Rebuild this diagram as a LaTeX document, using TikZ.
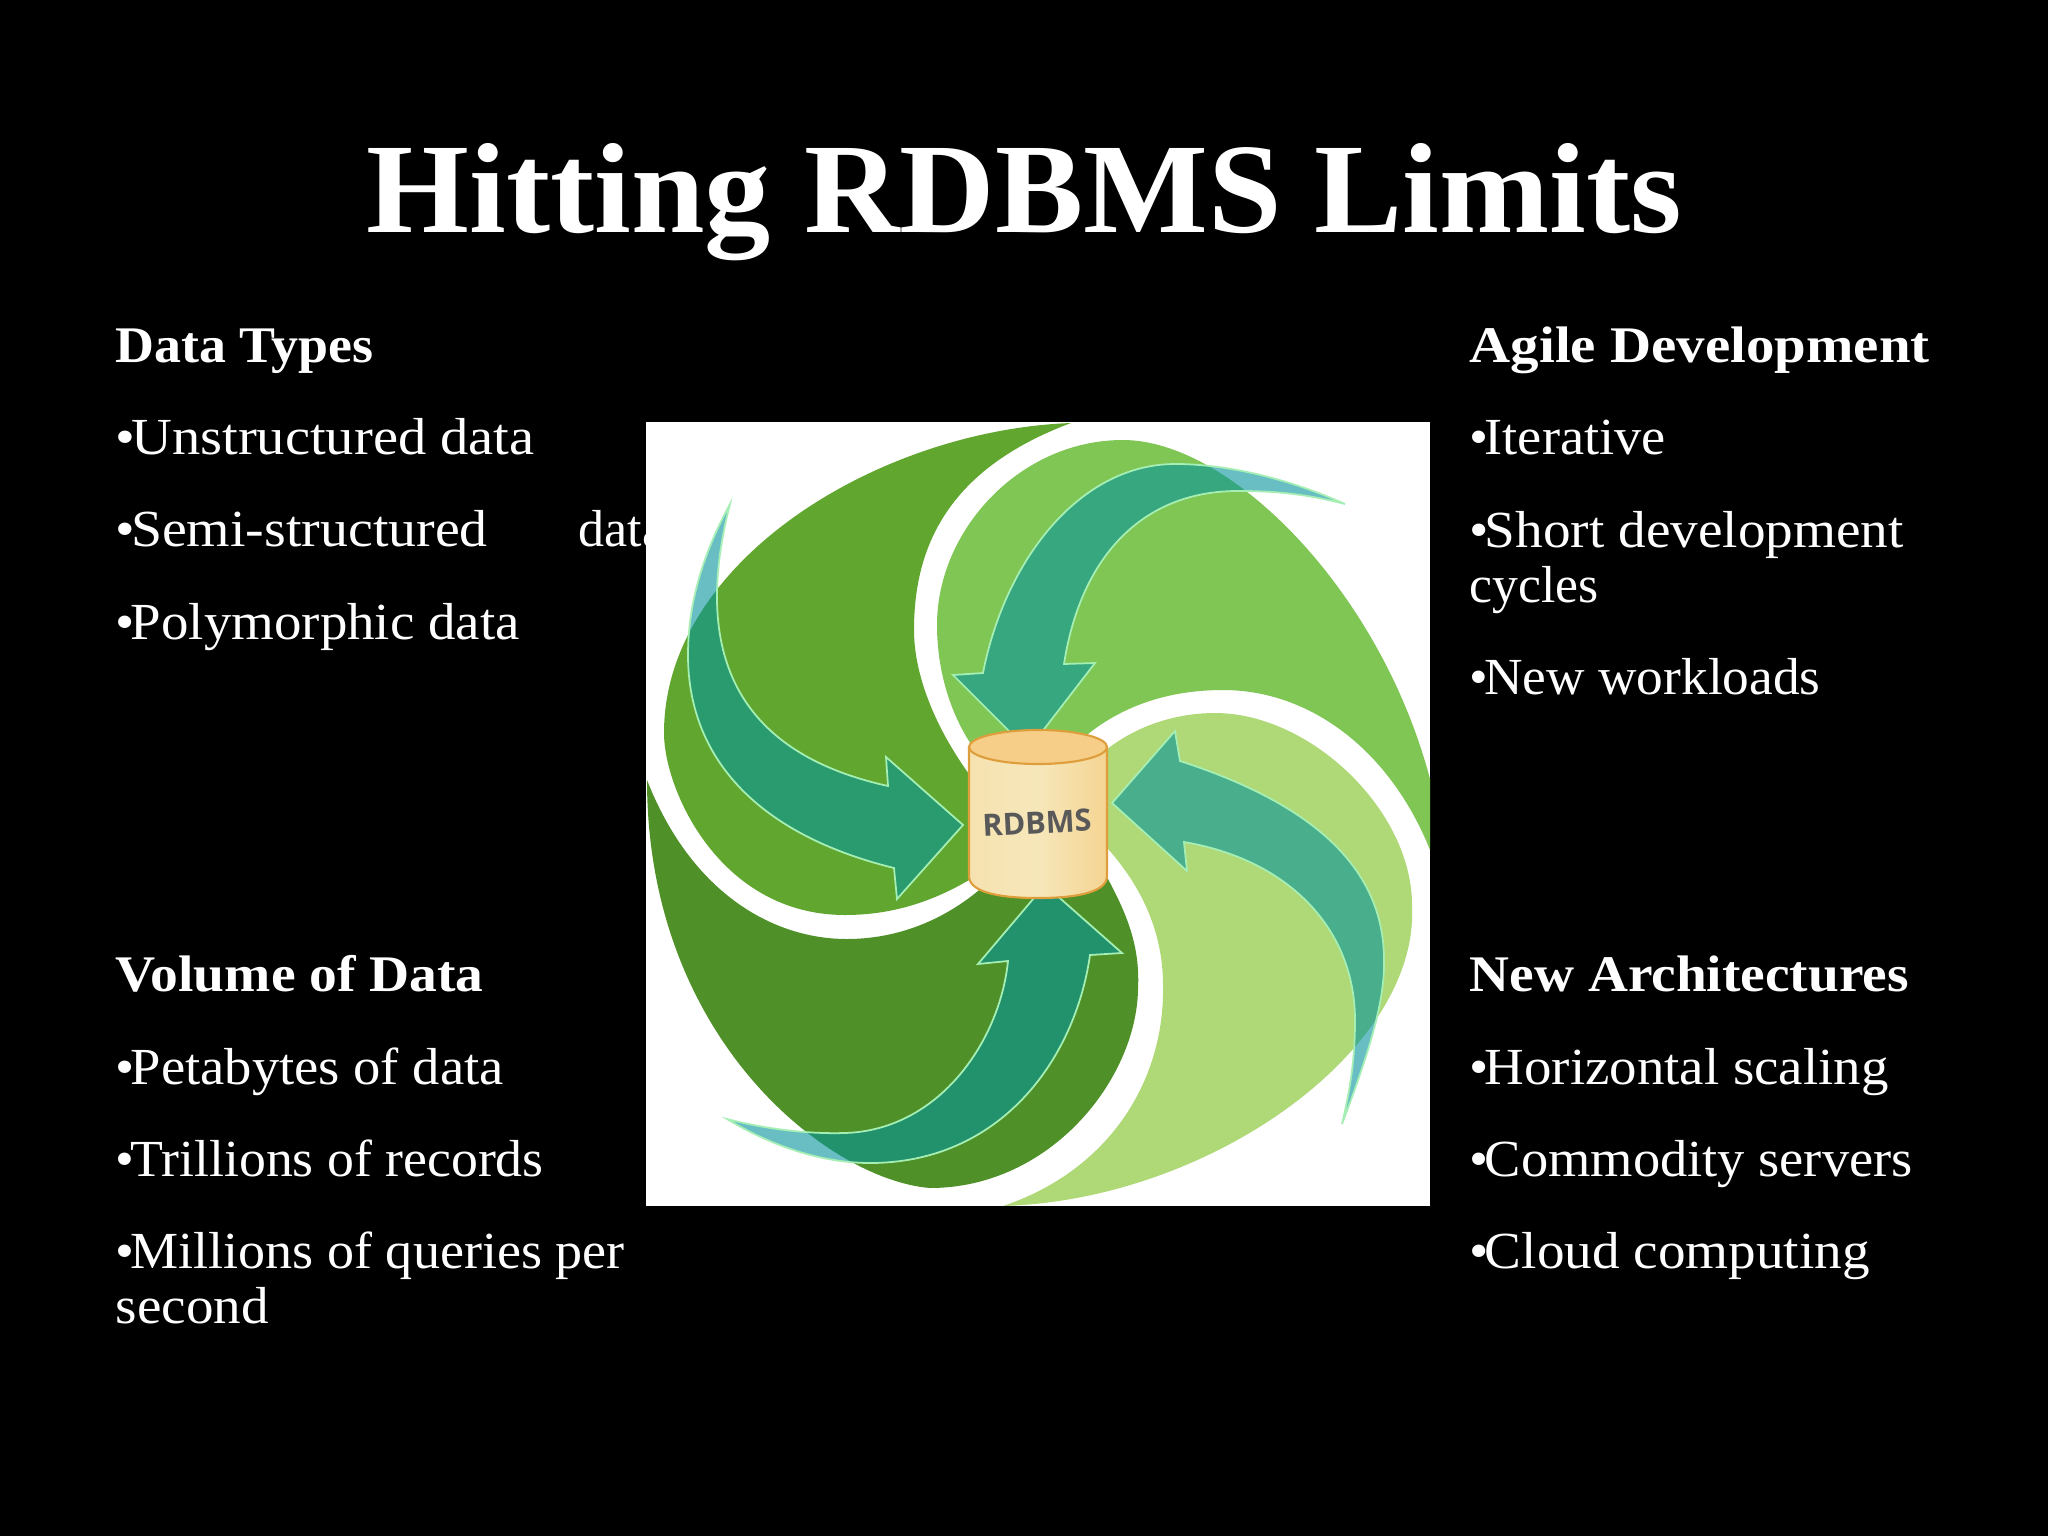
\documentclass[tikz,border=0pt]{standalone}
\usepackage{graphicx}
\usepackage{fontspec}
\setmainfont{Liberation Serif}
\newfontfamily\sansbold{Open Sans}
\newcommand{\fitw}[2]{\resizebox{#1\dimexpr0.01cm\relax}{\height}{#2}}
\newcommand{\bul}{•\kern-1.1pt}
\definecolor{leafmid}{RGB}{97,167,47}
\definecolor{leaftop}{RGB}{128,198,85}
\definecolor{leaflow}{RGB}{175,216,119}
\definecolor{leafdark}{RGB}{79,145,40}
\definecolor{arrowteal}{RGB}{5,147,155}
\definecolor{arrowline}{RGB}{165,239,181}
\definecolor{cylline}{RGB}{222,158,60}
\definecolor{cyltop}{RGB}{246,206,136}
\definecolor{cylL}{RGB}{246,226,176}
\definecolor{cylM}{RGB}{246,231,186}
\definecolor{cylR}{RGB}{245,212,146}
\tikzset{
  slidetitle/.style={anchor=base,inner sep=0,text=white,font=\bfseries\fontsize{36.5}{44}\selectfont},
  head/.style={anchor=base west,inner sep=0,text=white,font=\bfseries\fontsize{14.6}{18}\selectfont},
  body/.style={anchor=base west,inner sep=0,text=white,font=\fontsize{14.8}{18}\selectfont},
  flow/.style={fill=arrowteal,fill opacity=.6,draw=arrowline,line width=.5pt,line join=miter},
  cyl/.style={draw=cylline,line width=.6pt},
}
\begin{document}
\begin{tikzpicture}[x=0.01cm,y=-0.01cm]
\fill[black] (0,0) rectangle (2048,1536);
\useasboundingbox (0,0) rectangle (2048,1536);
% text
\node[slidetitle] (title) at (1024.5,232) {\fitw{1315}{Hitting RDBMS Limits}};
\node[head] (h1) at (115,362) {\fitw{258}{Data Types}};
\node[body] (a1) at (115,454) {\fitw{419}{\bul Unstructured data}};
\node[body] (a2) at (115,546) {\fitw{372}{\bul Semi-structured}};
\node[body] (a2b) at (578,546) {data};
\node[body] (a3) at (115,639) {\fitw{404}{\bul Polymorphic data}};
\node[head] (h2) at (115,991) {\fitw{368}{Volume of Data}};
\node[body] (b1) at (115,1084) {\fitw{388}{\bul Petabytes of data}};
\node[body] (b2) at (115,1176) {\fitw{428}{\bul Trillions of records}};
\node[body] (b3) at (115,1268) {\fitw{509}{\bul Millions of queries per}};
\node[body] (b3b) at (115,1323) {\fitw{153}{second}};
\node[head] (h3) at (1469,362) {\fitw{460}{Agile Development}};
\node[body] (c1) at (1469,454) {\fitw{196}{\bul Iterative}};
\node[body] (c2) at (1469,547) {\fitw{434}{\bul Short development}};
\node[body] (c2b) at (1469,602) {\fitw{129}{cycles}};
\node[body] (c3) at (1469,694) {\fitw{351}{\bul New workloads}};
\node[head] (h4) at (1469,991) {\fitw{439}{New Architectures}};
\node[body] (d1) at (1469,1084) {\fitw{419}{\bul Horizontal scaling}};
\node[body] (d2) at (1469,1176) {\fitw{443}{\bul Commodity servers}};
\node[body] (d3) at (1469,1268) {\fitw{400}{\bul Cloud computing}};
% picture panel
\fill[white] (646,422) rectangle (1430,1206);
% leaves
\fill[leafmid] (1071,423) .. controls (880,430) and (664,560) .. (664,733)
  .. controls (664,790) and (720,915) .. (845,915)
  .. controls (895,915) and (940,900) .. (985,870)
  -- (985,795) .. controls (940,740) and (914,680) .. (914,630)
  .. controls (914,550) and (945,470) .. (1071,423) -- cycle;
\fill[leaftop] (975,750) .. controls (950,715) and (937,670) .. (937,625)
  .. controls (937,530) and (1020,440) .. (1123,440)
  .. controls (1230,440) and (1380,590) .. (1430,779)
  -- (1430,850) .. controls (1390,750) and (1310,690) .. (1223,690)
  .. controls (1170,690) and (1115,705) .. (1070,750) -- cycle;
\fill[leaflow] (1085,770) .. controls (1120,730) and (1170,713) .. (1215,713)
  .. controls (1310,713) and (1412,810) .. (1412,905)
  .. controls (1420,1050) and (1210,1200) .. (1003,1206)
  .. controls (1110,1170) and (1165,1080) .. (1163,985)
  .. controls (1163,930) and (1140,880) .. (1095,835) -- cycle;
\fill[leafdark] (647,780) .. controls (690,890) and (770,939) .. (847,939)
  .. controls (890,939) and (940,925) .. (985,885)
  -- (1095,850) -- (1108,879) .. controls (1130,920) and (1140,950) .. (1138,990)
  .. controls (1136,1080) and (1050,1188) .. (930,1188)
  .. controls (830,1180) and (647,1040) .. (647,780) -- cycle;
% arrows
\path[flow] (730,504) .. controls (695,640) and (725,750) .. (888,786)
  -- (886,757) -- (963,825) -- (897,899) -- (894,868)
  .. controls (760,835) and (688,760) .. (688,655)
  .. controls (688,600) and (705,550) .. (730,504) -- cycle;
\path[flow] (1345,504) .. controls (1280,475) and (1220,464) .. (1175,464)
  .. controls (1080,464) and (1005,560) .. (983,673)
  -- (953,675) -- (1028,750) -- (1095,663) -- (1064,664)
  .. controls (1080,560) and (1140,490) .. (1240,491)
  .. controls (1280,491) and (1310,495) .. (1345,504) -- cycle;
\path[flow] (1342,1124) .. controls (1370,1050) and (1385,1000) .. (1384,960)
  .. controls (1384,860) and (1300,800) .. (1180,761)
  -- (1175,731) -- (1112,803) -- (1187,871) -- (1184,842)
  .. controls (1290,860) and (1355,930) .. (1355,1020)
  .. controls (1355,1060) and (1350,1090) .. (1342,1124) -- cycle;
\path[flow] (727,1119) .. controls (770,1130) and (810,1134) .. (845,1133)
  .. controls (940,1130) and (1000,1040) .. (1008,961)
  -- (978,964) -- (1045,885) -- (1122,953) -- (1090,955)
  .. controls (1075,1060) and (1000,1163) .. (870,1163)
  .. controls (820,1163) and (770,1145) .. (727,1119) -- cycle;
% cylinder
\path[cyl,left color=cylL,right color=cylR,middle color=cylM]
  (969,747) -- (969,876) .. controls (969,891) and (995,898) .. (1038,898)
  .. controls (1081,898) and (1107,891) .. (1107,876) -- (1107,747) -- cycle;
\path[cyl,fill=cyltop] (1038,747) ellipse [x radius=69,y radius=17];
\node[inner sep=0,rotate=3,text=black!65,font=\sansbold\bfseries\fontsize{8.7}{11}\selectfont] (rdbms) at (1037,823) {RDBMS};
\end{tikzpicture}
\end{document}
